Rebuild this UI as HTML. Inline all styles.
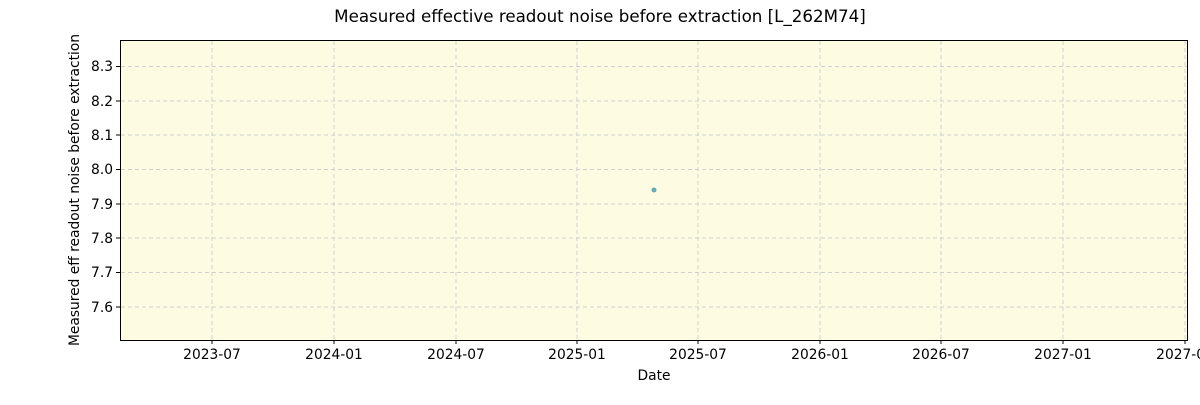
<!DOCTYPE html>
<html><head><meta charset="utf-8"><style>
body{margin:0;background:#fff;}
svg text{font-family:"DejaVu Sans","Liberation Sans",sans-serif;fill:#000;}
</style></head><body>
<svg width="1200" height="400" xmlns="http://www.w3.org/2000/svg">
<rect width="1200" height="400" fill="#fff"/>
<rect x="120.5" y="40.5" width="1067" height="300" fill="#fdfbe2" stroke="#000" stroke-width="1"/>
<g stroke="#d0d0d0" stroke-dasharray="4,3" stroke-width="1">
<line x1="212" y1="41" x2="212" y2="340"/><line x1="334" y1="41" x2="334" y2="340"/>
<line x1="456" y1="41" x2="456" y2="340"/><line x1="577" y1="41" x2="577" y2="340"/>
<line x1="698" y1="41" x2="698" y2="340"/><line x1="820" y1="41" x2="820" y2="340"/>
<line x1="941" y1="41" x2="941" y2="340"/><line x1="1063" y1="41" x2="1063" y2="340"/>
<line x1="1185" y1="41" x2="1185" y2="340"/>
<line x1="121" y1="66.5" x2="1187" y2="66.5"/><line x1="121" y1="101" x2="1187" y2="101"/>
<line x1="121" y1="135" x2="1187" y2="135"/><line x1="121" y1="169.5" x2="1187" y2="169.5"/>
<line x1="121" y1="204" x2="1187" y2="204"/><line x1="121" y1="238" x2="1187" y2="238"/>
<line x1="121" y1="272.5" x2="1187" y2="272.5"/><line x1="121" y1="307" x2="1187" y2="307"/>
</g>
<g stroke="#000" stroke-width="1">
<line x1="212" y1="340" x2="212" y2="344"/><line x1="334" y1="340" x2="334" y2="344"/>
<line x1="456" y1="340" x2="456" y2="344"/><line x1="577" y1="340" x2="577" y2="344"/>
<line x1="698" y1="340" x2="698" y2="344"/><line x1="820" y1="340" x2="820" y2="344"/>
<line x1="941" y1="340" x2="941" y2="344"/><line x1="1063" y1="340" x2="1063" y2="344"/>
<line x1="1185" y1="340" x2="1185" y2="344"/>
<line x1="116" y1="66.5" x2="120" y2="66.5"/><line x1="116" y1="101" x2="120" y2="101"/>
<line x1="116" y1="135" x2="120" y2="135"/><line x1="116" y1="169.5" x2="120" y2="169.5"/>
<line x1="116" y1="204" x2="120" y2="204"/><line x1="116" y1="238" x2="120" y2="238"/>
<line x1="116" y1="272.5" x2="120" y2="272.5"/><line x1="116" y1="307" x2="120" y2="307"/>
</g>
<g font-size="13.8" text-anchor="middle">
<text x="212" y="359">2023-07</text><text x="334" y="359">2024-01</text>
<text x="456" y="359">2024-07</text><text x="577" y="359">2025-01</text>
<text x="698" y="359">2025-07</text><text x="820" y="359">2026-01</text>
<text x="941" y="359">2026-07</text><text x="1063" y="359">2027-01</text>
<text x="1185" y="359">2027-07</text>
</g>
<g font-size="13.8" text-anchor="end">
<text x="113" y="71">8.3</text><text x="113" y="106">8.2</text>
<text x="113" y="140">8.1</text><text x="113" y="174">8.0</text>
<text x="113" y="209">7.9</text><text x="113" y="243">7.8</text>
<text x="113" y="277">7.7</text><text x="113" y="312">7.6</text>
</g>
<text x="654" y="380" font-size="13.8" text-anchor="middle">Date</text>
<text transform="translate(79,190) rotate(-90)" font-size="13.8" text-anchor="middle">Measured eff readout noise before extraction</text>
<text x="600" y="22" font-size="16.7" text-anchor="middle">Measured effective readout noise before extraction [L_262M74]</text>
<circle cx="654" cy="190" r="2.5" fill="#6aaab8"/>
</svg>
</body></html>
